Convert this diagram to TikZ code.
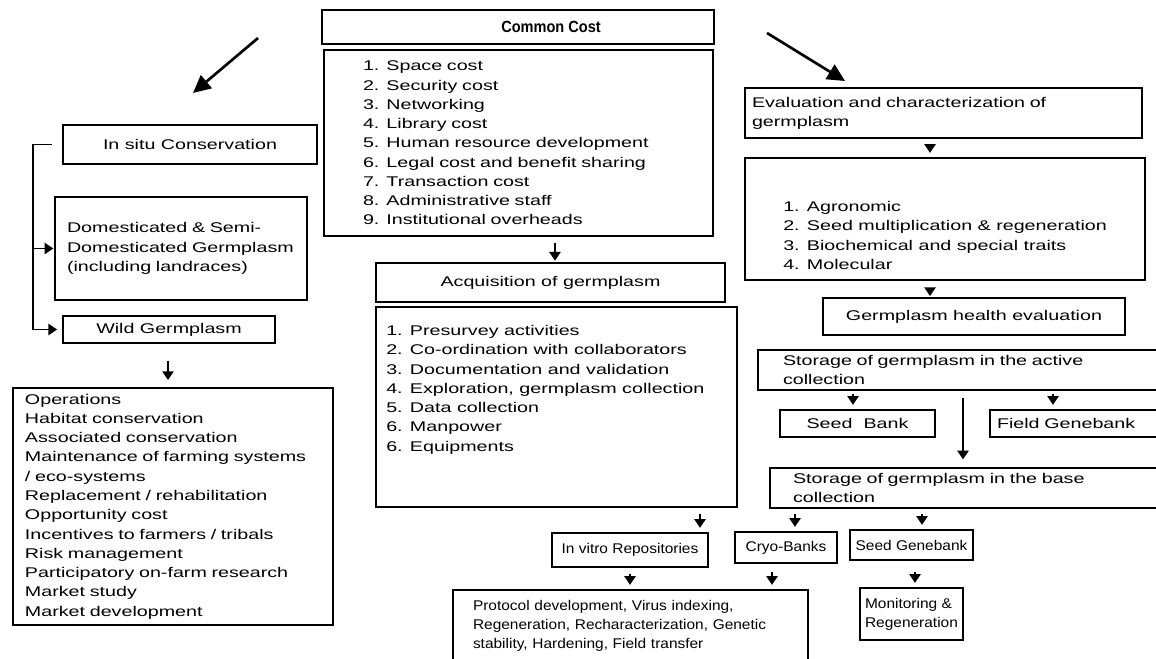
\documentclass[tikz,border=0pt]{standalone}
\usepackage{fontspec}
\setmainfont[FakeStretch=1.4]{Liberation Sans}
\newfontfamily\narrowfont[FakeStretch=1.1]{Liberation Sans}
\newfontfamily\titlefont[FakeStretch=0.9]{Liberation Sans}
\usetikzlibrary{arrows.meta}
\hyphenpenalty=10000
\newcommand{\boxfont}{\fontsize{10}{13.7}\selectfont}
\newcommand{\lowfont}{\narrowfont\fontsize{10}{13.7}\selectfont}
\tikzset{
  boxsize/.style 2 args={minimum width=#1*0.025cm, minimum height=#2*0.025cm},
  plainbox/.style={draw, line width=1.3pt, inner sep=0pt, align=center, font=\boxfont},
  listbox/.style n args={3}{plainbox, boxsize={#1}{#2}, align=left, inner xsep=#3*0.025cm,
    /utils/exec={\pgfmathsetmacro\boxtw{(#1-2*#3)*0.025}}, text width=\boxtw cm},
  listtext/.style={anchor=north west, inner sep=0pt, align=left, font=\boxfont},
  downarr/.style={-{Triangle[length=2.2mm,width=2.8mm]}, line width=1.4pt, shorten <=3pt, shorten >=3pt},
  bigarr/.style={-{Triangle[length=4.4mm,width=4.2mm]}, line width=1.9pt}
}
\begin{document}
\begin{tikzpicture}[x=0.025cm, y=-0.025cm]
\useasboundingbox (0,0) rectangle (1156,658);
\clip (0,0) rectangle (1156,658);
\fill[white] (0,0) rectangle (1156,658);

% middle column: common cost and acquisition
\node[plainbox, boxsize={392}{34}, font=\titlefont\bfseries\fontsize{11.5}{13}\selectfont] (cctitle) at (518,27) {\hspace*{47pt}Common Cost};
\node[listbox={389}{186}{39}] (cclist) at (518.5,143) {1. Space cost\\2. Security cost\\3. Networking\\4. Library cost\\5. Human resource development\\6. Legal cost and benefit sharing\\7. Transaction cost\\8. Administrative staff\\9. Institutional overheads};
\node[plainbox, boxsize={349}{39}] (acqtitle) at (550.5,282.5) {Acquisition of germplasm};
\node[plainbox, boxsize={361}{200}] (acqlist) at (556.5,407) {};
\node[listtext] (acqtext) at (386,325) {1. Presurvey activities\\2. Co-ordination with collaborators\\3. Documentation and validation\\4. Exploration, germplasm collection\\5. Data collection\\6. Manpower\\6. Equipments};

% left column: in situ
\node[plainbox, boxsize={254}{39}] (insitu) at (190,144.5) {In situ Conservation};
\node[listbox={252}{103}{12}] (dom) at (181,248.5) {Domesticated \& Semi-\\Domesticated Germplasm\\(including landraces)};
\node[plainbox, boxsize={212}{27}] (wild) at (169,329.5) {Wild Germplasm};
\node[listbox={320}{237}{12}] (ops) at (173,506.5) {Operations\\Habitat conservation\\Associated conservation\\Maintenance of farming systems\\/ eco-systems\\Replacement / rehabilitation\\Opportunity cost\\Incentives to farmers / tribals\\Risk management\\Participatory on-farm research\\Market study\\Market development};

% right column: evaluation and storage
\node[listbox={397}{50}{7}] (evaltitle) at (943.5,113) {Evaluation and characterization of\\germplasm};
\node[plainbox, boxsize={400}{122}] (evallist) at (945,219) {};
\node[listtext] (evaltext) at (783,201) {1. Agronomic\\2. Seed multiplication \& regeneration\\3. Biochemical and special traits\\4. Molecular};
\node[plainbox, boxsize={302}{37}] (health) at (974,316.5) {Germplasm health evaluation};
\node[listbox={412}{40}{25}] (active) at (964,370) {Storage of germplasm in the active\\collection};
\node[plainbox, boxsize={155}{27}] (seedbank) at (857.5,423.5) {Seed\ \ Bank};
\node[listbox={180}{27}{7}] (fieldgb) at (1080,423.5) {Field Genebank};
\node[listbox={400}{40}{23}] (base) at (970,488) {Storage of germplasm in the base\\collection};
\node[plainbox, boxsize={156}{34}, font=\lowfont] (invitro) at (630,550) {In vitro Repositories};
\node[plainbox, boxsize={102}{31}, font=\lowfont] (cryo) at (786,547.5) {Cryo-Banks};
\node[plainbox, boxsize={123}{30}, font=\lowfont] (seedgb) at (911.5,545) {Seed Genebank};
\node[listbox={355}{72}{20}, font=\lowfont] (protocol) at (630.5,626) {Protocol development, Virus indexing,\\Regeneration, Recharacterization, Genetic\\stability, Hardening, Field transfer};
\node[plainbox, boxsize={103}{52}, align=left, font=\lowfont] (monitor) at (911.5,614) {Monitoring \&\\Regeneration};

% free ends of the two big arrows and the bracket line
\coordinate (leftfrom) at (258,38);
\coordinate (leftto) at (193,93);
\coordinate (rightfrom) at (767,33);
\coordinate (rightto) at (845,81);
\coordinate (brk) at (33,0);

\draw[bigarr] (leftfrom) -- (leftto);
\draw[bigarr] (rightfrom) -- (rightto);

% bracket of the in situ side
\draw[downarr, shorten <=7pt, shorten >=3.5pt] (insitu.west) -| (brk |- wild.west) -- (wild.west);
\draw[downarr, shorten <=0pt, shorten >=0.5pt] (brk |- dom.west) -- (dom.west);
\draw[downarr, shorten <=12pt, shorten >=5pt] (wild.south -| 168,0) -- (ops.north -| 168,0);

% middle column
\draw[downarr, shorten <=4.3pt, shorten >=1pt] (cclist.south -| 555,0) -- (acqtitle.north -| 555,0);

% right column
\draw[downarr, shorten <=3.5pt, shorten >=3pt] (evaltitle.south -| 930,0) -- (evallist.north -| 930,0);
\draw[downarr, shorten <=5pt, shorten >=0.7pt] (evallist.south -| 930,0) -- (health.north -| 930,0);
\draw[downarr, shorten <=2pt] (active.south -| 853,0) -- (seedbank.north -| 853,0);
\draw[downarr, shorten <=2pt] (active.south -| 1053,0) -- (fieldgb.north -| 1053,0);
\draw[downarr, line width=1.7pt, shorten <=5pt, shorten >=5.5pt] (active.south -| 963,0) -- (base.north -| 963,0);
\draw[downarr, shorten <=3.5pt] (base.south -| 700,0) -- (invitro.north -| 700,0);
\draw[downarr, shorten <=3.5pt] (base.south -| 795,0) -- (cryo.north -| 795,0);
\draw[downarr, shorten <=3.5pt] (base.south -| 922,0) -- (seedgb.north -| 922,0);
\draw[downarr, shorten <=4pt] (invitro.south -| 630,0) -- (protocol.north -| 630,0);
\draw[downarr, shorten <=6pt] (cryo.south -| 772,0) -- (protocol.north -| 772,0);
\draw[downarr, shorten <=8pt] (seedgb.south -| 915,0) -- (monitor.north -| 915,0);
\end{tikzpicture}
\end{document}
